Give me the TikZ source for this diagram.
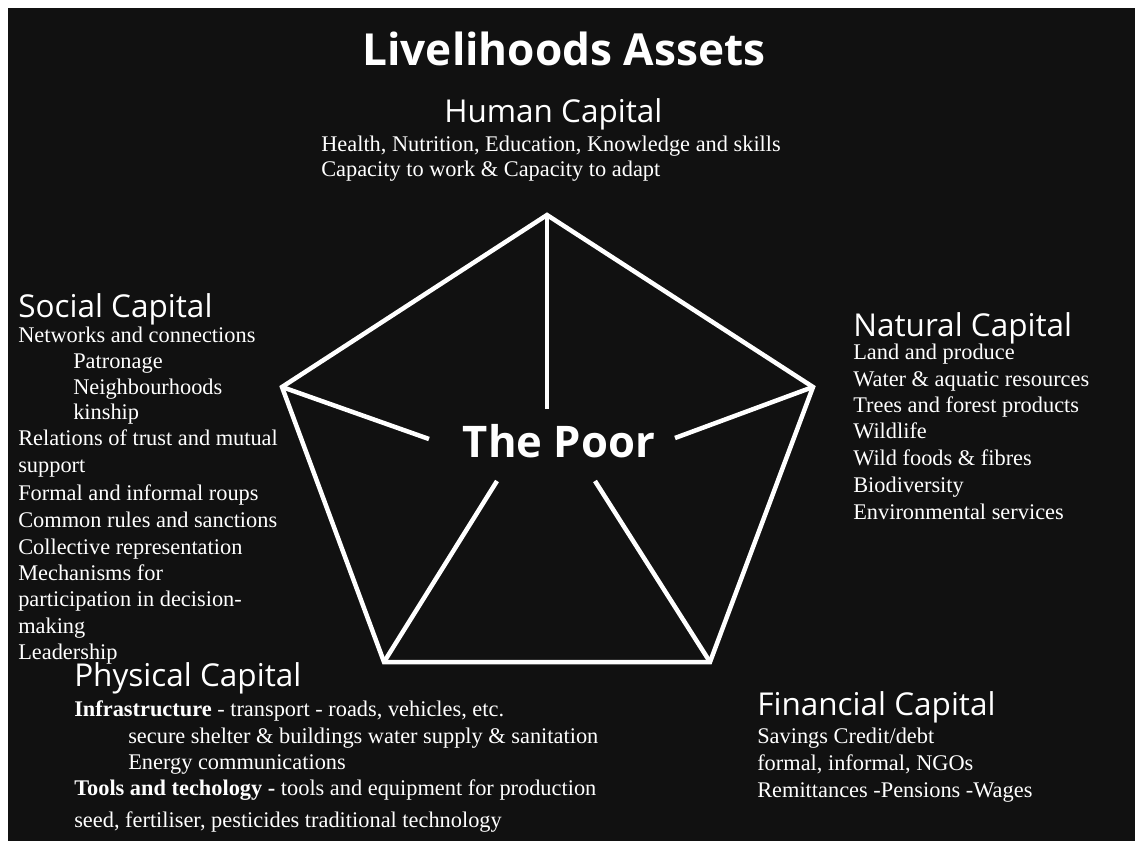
\documentclass[tikz,border=0pt]{standalone}
\usepackage{fontspec}
\setmainfont{Liberation Serif}
\newfontfamily\headfont{Open Sans}
\usetikzlibrary{calc}
\definecolor{bgblack}{HTML}{111111}

\begin{document}
\begin{tikzpicture}[x=0.025cm, y=-0.025cm,
    title/.style={text=white, inner sep=0, anchor=base, font=\headfont\bfseries\fontsize{31.4}{36}\selectfont},
    capital/.style={text=white, inner sep=0, anchor=base west, font=\headfont\fontsize{22.4}{26}\selectfont},
    item/.style={text=white, inner sep=0, anchor=base west, font=\fontsize{15.9}{19}\selectfont},
    edge/.style={draw=white, line width=3.2pt}]
        \useasboundingbox (0,0) rectangle (1135,841);
        \fill[bgblack] (8,8) rectangle (1135,841);

        \node[title] (title) at (564,65) {Livelihoods Assets};
        \node[title, font=\headfont\bfseries\fontsize{31}{36}\selectfont] (poor) at (559,457) {The Poor};

        \coordinate (vtop) at (547,215);
        \coordinate (vleft) at (282,387);
        \coordinate (vright) at (813,387);
        \coordinate (vbl) at (384,662);
        \coordinate (vbr) at (710,662);

        \draw[edge] (vtop) -- (vright) -- (vbr) -- (vbl) -- (vleft) -- cycle;
        \draw[edge] (vtop) -- ($(poor.base)+(-12,-48)$);
        \draw[edge] (vleft) -- ($(poor.base)+(-130,-18)$);
        \draw[edge] (vright) -- ($(poor.base)+(116,-19)$);
        \draw[edge] (vbl) -- ($(poor.base)+(-62,24)$);
        \draw[edge] (vbr) -- ($(poor.base)+(36,24)$);

        \node[capital] (human) at (444,122) {Human Capital};
        \node[item] (human1) at (321,151) {Health, Nutrition, Education, Knowledge and skills};
        \node[item] (human2) at (321,176) {Capacity to work \& Capacity to adapt};

        \node[capital] (social) at (18,317) {Social Capital};
        \foreach \x/\y/\t [count=\i] in {18/342/Networks and connections, 73/368/Patronage,
            73/394/Neighbourhoods, 73/419/kinship, 18/445/Relations of trust and mutual,
            18/472/support, 18/500/Formal and informal roups, 18/527/Common rules and sanctions,
            18/554/Collective representation, 18/580/Mechanisms for,
            18/606/participation in decision-, 18/633/making, 18/659/Leadership}
          \node[item] (social\i) at (\x,\y) {\t};

        \node[capital] (natural) at (853,336) {Natural Capital};
        \foreach \y/\t [count=\i] in {359/Land and produce, 386/Water \& aquatic resources,
            412/Trees and forest products, 438/Wildlife, 465/Wild foods \& fibres,
            492/Biodiversity, 519/Environmental services}
          \node[item] (natural\i) at (853,\y) {\t};

        \node[capital] (physical) at (74,686) {Physical Capital};
        \node[item] (physical1) at (74,716) {\textbf{Infrastructure} - transport - roads, vehicles, etc.};
        \node[item] (physical2) at (128,743) {secure shelter \& buildings water supply \& sanitation};
        \node[item] (physical3) at (128,769) {Energy communications};
        \node[item] (physical4) at (74,795) {\textbf{Tools and techology -} tools and equipment for production};
        \node[item] (physical5) at (74,827) {seed, fertiliser, pesticides traditional technology};

        \node[capital] (financial) at (757,715) {Financial Capital};
        \node[item] (financial1) at (757,743) {Savings Credit/debt};
        \node[item] (financial2) at (757,770) {formal, informal, NGOs};
        \node[item] (financial3) at (757,797) {Remittances -Pensions -Wages};
      \end{tikzpicture}
\end{document}
